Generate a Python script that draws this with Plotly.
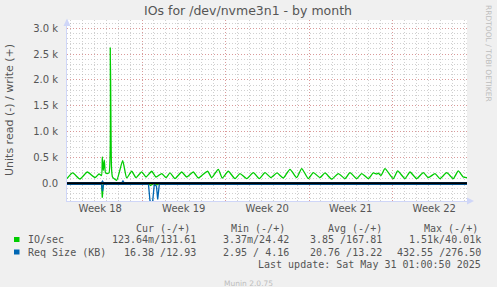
import pandas as pd
import plotly.graph_objects as go

# ---------------- data ----------------
t0 = pd.Timestamp("2025-04-27 17:07")
span_days = 33.53

# IO/sec, write (+) : day offset from t0 / value
io_w_days = [0.0, 0.478, 1.090, 1.702, 2.347, 2.682, 2.892, 2.959, 3.043, 3.127, 3.227, 3.353,
             3.521, 3.630, 3.730, 3.814, 4.166, 4.669, 5.004, 5.423, 5.784, 6.262, 6.622, 7.100,
             7.460, 7.938, 8.298, 8.634, 9.053, 9.614, 10.034, 10.587, 11.006, 11.400, 11.794,
             12.129, 12.682, 13.018, 13.520, 14.082, 14.501, 15.063, 15.616, 16.119, 16.597,
             17.100, 17.603, 18.131, 18.692, 19.254, 19.673, 20.226, 20.645, 21.207, 21.626,
             22.187, 22.741, 23.303, 23.722, 24.283, 24.702, 25.256, 25.675, 25.960, 26.094,
             26.320, 26.655, 27.351, 27.720, 28.332, 28.751, 29.313, 29.866, 30.285, 30.847,
             31.266, 31.828, 32.381, 32.800, 33.219, 33.529]
io_w_vals = [91, 200, 83, 219, 110, 180, 150, 510, 250, 446, 200, 190,
             200, 2630, 300, 122, 58, 440, 103, 233, 110, 220, 122, 233,
             122, 188, 110, 200, 91, 219, 122, 219, 103, 170, 233,
             110, 271, 103, 233, 91, 188, 91, 207, 91, 207,
             110, 200, 103, 271, 110, 285, 91, 207, 110, 200,
             80, 188, 91, 207, 91, 188, 91, 200, 180, 195,
             150, 284, 91, 239, 91, 219, 91, 207, 110, 188,
             91, 207, 91, 239, 122, 110]

# IO/sec, read (-)
io_r_days = [0.0, 2.892, 2.959, 3.043, 6.831, 7.000, 7.300, 7.550, 7.750, 33.529]
io_r_vals = [3, 3, 280, 3, 3, 40, 3, 30, 3, 3]

# Req Size (KB), read (-)
rs_r_days = [0.0, 2.892, 2.976, 3.060, 6.831, 6.957, 7.167, 7.318, 7.502, 7.603, 7.737, 33.529]
rs_r_vals = [20, 20, 150, 20, 20, 340, 380, 20, 60, 310, 20, 20]

# Req Size (KB), write (+)
rs_w_days = [0.0, 2.892, 2.976, 3.060, 4.600, 4.690, 4.780, 33.529]
rs_w_vals = [13, 13, 40, 13, 13, 45, 13, 13]

week_bounds = ["2025-05-04", "2025-05-11", "2025-05-18", "2025-05-25"]
week_centers = ["2025-04-30 12:00", "2025-05-07 12:00", "2025-05-14 12:00",
                "2025-05-21 12:00", "2025-05-28 12:00"]
week_labels = ["Week 18", "Week 19", "Week 20", "Week 21", "Week 22"]

y_tickvals = [0, 500, 1000, 1500, 2000, 2500, 3000]
y_ticktext = ["0.0", "0.5 k", "1.0 k", "1.5 k", "2.0 k", "2.5 k", "3.0 k"]

series_names = ["IO/sec", "Req Size (KB)"]
series_colors = ["#00CC00", "#0066B3"]
col_headers = ["Cur (-/+)", "Min (-/+)", "Avg (-/+)", "Max (-/+)"]
io_stats = ["123.64m/131.61", "3.37m/24.42", "3.85 /167.81", "1.51k/40.01k"]
rs_stats = ["16.38 /12.93", "2.95 / 4.16", "20.76 /13.22", "432.55 /276.50"]
last_update = "Last update: Sat May 31 01:00:50 2025"
title_text = "IOs for /dev/nvme3n1 - by month"
ylabel = "Units read (-) / write (+)"

# ---------------- layout geometry ----------------
W, H = 497, 287
L, R, T, B = 67, 467, 20, 201
Y0_PX, Y3K_PX = 183.3, 28.3
upp = 3000.0 / (Y0_PX - Y3K_PX)
y_min = -(B - Y0_PX) * upp
y_max = (Y0_PX - T) * upp


def px(x):
    return (x - L) / (R - L)


def py(y):
    return (B - y) / (B - T)


def times(days):
    return [t0 + pd.Timedelta(days=d) for d in days]


FONT = "DejaVu Sans"
MONO = "DejaVu Sans Mono"
FC = "#555555"

fig = go.Figure()
fig.add_trace(go.Scatter(x=times(io_w_days), y=io_w_vals, mode="lines",
                         line=dict(color=series_colors[0], width=1.3, shape="spline", smoothing=0.5),
                         showlegend=False))
fig.add_trace(go.Scatter(x=times(io_r_days), y=[-v for v in io_r_vals], mode="lines",
                         line=dict(color=series_colors[0], width=1.3), showlegend=False))
fig.add_trace(go.Scatter(x=times(rs_r_days), y=[-v for v in rs_r_vals], mode="lines",
                         line=dict(color=series_colors[1], width=1.3), showlegend=False))
fig.add_trace(go.Scatter(x=times(rs_w_days), y=rs_w_vals, mode="lines", xaxis="x2",
                         line=dict(color=series_colors[1], width=1.3), showlegend=False))

x_range = [t0, t0 + pd.Timedelta(days=span_days)]

fig.update_layout(
    width=W, height=H,
    margin=dict(l=L, r=W - R, t=T, b=H - B, pad=0),
    paper_bgcolor="#F0F0F0", plot_bgcolor="#FFFFFF",
    showlegend=False,
    xaxis=dict(type="date", range=x_range, tickmode="array", tickvals=week_bounds,
               showticklabels=False, ticks="",
               showgrid=True, gridcolor="rgba(225,110,110,0.55)", griddash="1px,2px", gridwidth=1,
               minor=dict(tickmode="linear", tick0="2025-04-27", dtick=86400000, showgrid=True,
                          gridcolor="rgba(170,170,170,0.55)", griddash="1px,2px", ticks=""),
               showline=True, linecolor="#CFD6F8", linewidth=1, zeroline=False),
    xaxis2=dict(type="date", range=x_range, matches="x", overlaying="x", anchor="y", side="bottom",
                tickmode="array", tickvals=week_centers, ticktext=week_labels, ticks="",
                showgrid=False, zeroline=False, showline=False,
                tickfont=dict(family=FONT, size=10, color=FC)),
    yaxis=dict(range=[y_min, y_max], tickmode="array", tickvals=y_tickvals, ticktext=y_ticktext,
               ticks="", ticklabelstandoff=6,
               tickfont=dict(family=FONT, size=10, color=FC),
               showgrid=True, gridcolor="rgba(225,110,110,0.55)", griddash="1px,2px", gridwidth=1,
               minor=dict(tickmode="linear", tick0=0, dtick=100, showgrid=True,
                          gridcolor="rgba(170,170,170,0.55)", griddash="1px,2px", ticks=""),
               showline=True, linecolor="#CFD6F8", linewidth=1, zeroline=False),
    title=dict(text=title_text, x=248 / W, xanchor="center", y=1 - 10.5 / H, yanchor="middle",
               font=dict(family=FONT, size=12.5, color="#555555")),
)

# zero line
fig.add_shape(type="line", xref="paper", yref="y", x0=0, x1=1, y0=0, y1=0,
              line=dict(color="#000000", width=2), layer="above")

# axis arrows
fig.add_shape(type="path", xref="paper", yref="paper", layer="above",
              path=f"M {px(63.5)} {py(26)} L {px(67)} {py(18.5)} L {px(70.5)} {py(26)} Z",
              fillcolor="#CFD6F8", line=dict(width=0))
fig.add_shape(type="path", xref="paper", yref="paper", layer="above",
              path=f"M {px(467)} {py(197.5)} L {px(474)} {py(201)} L {px(467)} {py(204.5)} Z",
              fillcolor="#CFD6F8", line=dict(width=0))

ann = []


def text(x, y, s, anchor="left", size=10, family=MONO, color=FC, angle=0):
    ann.append(dict(x=px(x), y=py(y), xref="paper", yref="paper", text=s, showarrow=False,
                    xanchor=anchor, yanchor="middle", borderpad=0, textangle=angle,
                    font=dict(family=family, size=size, color=color)))


# y label
text(10, 110, ylabel, anchor="center", size=11, family=FONT, angle=-90)
# rrdtool credit
text(488, 53, "RRDTOOL / TOBI OETIKER", anchor="center", size=7.5, family=FONT,
     color="#BDBDBD", angle=90)

# legend
hdr_x = [135, 230, 326.7, 422.7]
val_r = [196.7, 290, 383.3, 482.3]
for hx, h in zip(hdr_x, col_headers):
    text(hx, 228, h)
rows_y = [239.5, 252]
for ry, name, col, stats in zip(rows_y, series_names, series_colors, [io_stats, rs_stats]):
    fig.add_shape(type="rect", xref="paper", yref="paper",
                  x0=px(14), x1=px(19.5), y0=py(ry - 2.5), y1=py(ry + 2.5),
                  fillcolor=col, line=dict(width=0))
    text(26.7, ry, name)
    for rx, s in zip(val_r, stats):
        text(rx, ry, s, anchor="right")

text(482.3, 264, last_update, anchor="right")
text(248, 283.5, "Munin 2.0.75", anchor="center", size=7.5, family=FONT, color="#BDBDBD")

fig.update_layout(annotations=ann)
fig.write_html("out.html")
